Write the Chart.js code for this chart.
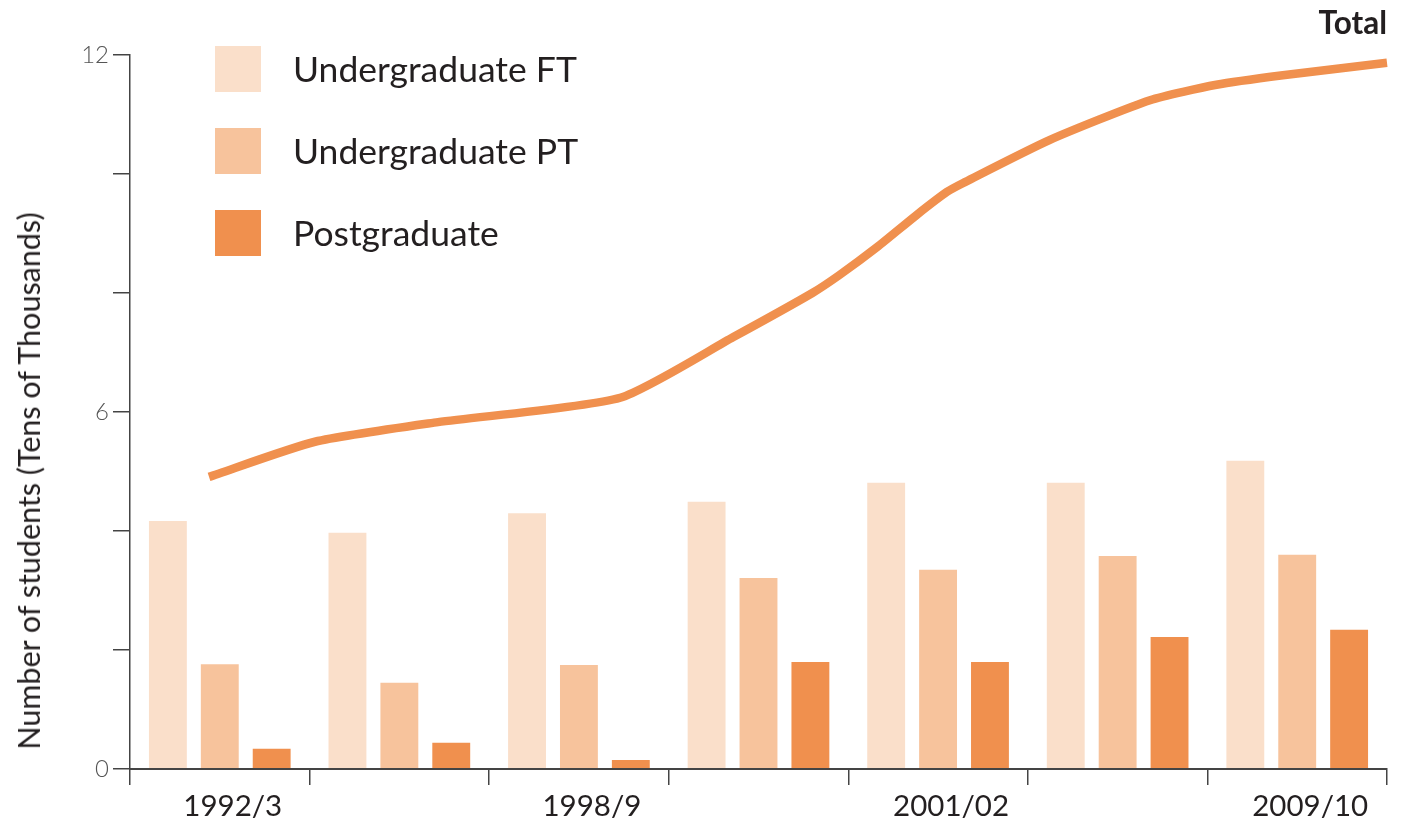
<!DOCTYPE html>
<html>
<head>
<meta charset="utf-8">
<script src="https://cdn.jsdelivr.net/npm/chart.js@4.4.0/dist/chart.umd.min.js"></script>
<style>
  html, body { margin: 0; padding: 0; background: #fff; }
  #wrap { position: relative; width: 1407px; height: 829px; font-family: Lato, "Noto Sans", sans-serif; color: #231f20; }
  canvas { position: absolute; left: 0; top: 0; }
  #legend { position: absolute; left: 215px; top: 46px; }
  .item { display: flex; align-items: center; height: 46px; margin-bottom: 36px; }
  .swatch { width: 46px; height: 46px; margin-right: 32px; }
  .item span { font-size: 35.5px; line-height: 46px; }
  #total { position: absolute; right: 20px; top: 3px; font-size: 31.5px; font-weight: bold; }
  #ytitle { position: absolute; left: 28px; top: 481px; font-size: 30.5px; white-space: nowrap;
            transform: translate(-50%, -50%) rotate(-90deg); }
</style>
</head>
<body>
<div id="wrap">
  <canvas id="bars" width="1407" height="829"></canvas>
  <canvas id="total-line" width="1407" height="829"></canvas>
  <div id="legend"></div>
  <div id="total">Total</div>
  <div id="ytitle">Number of students (Tens of Thousands)</div>
</div>
<script>
// dados
const categories = ["1992/3", "", "1998/9", "", "2001/02", "", "2009/10"];
const ugFullTime = [4.17, 3.97, 4.30, 4.49, 4.81, 4.81, 5.18];
const ugPartTime = [1.76, 1.45, 1.75, 3.21, 3.35, 3.58, 3.60];
const postgrad = [0.34, 0.44, 0.15, 1.80, 1.80, 2.22, 2.34];
// total line: position along the axis in group widths (0..7)
const totalPos = [0.44, 1.03, 1.715, 2.73, 3.36, 3.80, 3.95, 4.16, 4.38, 4.55, 4.64, 5.12, 5.68, 6.05, 6.42, 7.0];
const totalVals = [4.91, 5.50, 5.83, 6.24, 7.26, 8.00, 8.30, 8.77, 9.31, 9.70, 9.85, 10.57, 11.24, 11.50, 11.66, 11.87];
const yLabelled = [0, 6, 12];

const ORANGE = "#F0904E";
const AXIS = "#444444";
const PAD = { top: 55, right: 20, left: 0, bottom: 0 };

const CHART = document.querySelector("#bars");
const CHART2 = document.querySelector("#total-line");

let barras = new Chart(CHART, {
  type: "bar",
  data: {
    labels: categories,
    datasets: [
      { label: "Undergraduate FT", data: ugFullTime, backgroundColor: "#FADFCA" },
      { label: "Undergraduate PT", data: ugPartTime, backgroundColor: "#F7C39C" },
      { label: "Postgraduate", data: postgrad, backgroundColor: ORANGE },
    ],
  },
  options: {
    responsive: false,
    animation: false,
    categoryPercentage: 0.867,
    barPercentage: 0.73,
    layout: { padding: PAD },
    plugins: { legend: { display: false }, tooltip: { enabled: false } },
    scales: {
      x: {
        offset: true,
        afterFit: (s) => { s.height = 60; },
        grid: { drawOnChartArea: false, offset: true, tickLength: 16, color: AXIS, lineWidth: 1.5 },
        border: { color: AXIS, width: 2, z: 1 },
        ticks: {
          autoSkip: false, maxRotation: 0, padding: 4, labelOffset: 13,
          color: "#231f20", font: { family: "Lato", size: 29.5 },
        },
      },
      y: {
        min: 0, max: 12,
        afterFit: (s) => { s.width = 130; },
        grid: { drawOnChartArea: false, tickLength: 17, color: AXIS, lineWidth: 1.5 },
        border: { color: AXIS, width: 1.5 },
        ticks: {
          stepSize: 2, padding: 4,
          color: "#555", font: { family: "Lato", size: 24, weight: "300" },
          callback: (v) => (yLabelled.includes(v) ? v : ""),
        },
      },
    },
  },
});

// linha do total num canvas por cima, mesma area de grafico
let linha = new Chart(CHART2, {
  type: "line",
  data: {
    datasets: [
      {
        label: "Total",
        data: totalPos.map((p, i) => ({ x: p, y: totalVals[i] })),
        borderColor: ORANGE,
        borderWidth: 8.5,
        pointRadius: 0,
        tension: 0.2,
        clip: false,
      },
    ],
  },
  options: {
    responsive: false,
    animation: false,
    layout: { padding: { top: 55, right: 20, left: 130, bottom: 60 } },
    plugins: { legend: { display: false }, tooltip: { enabled: false } },
    scales: {
      x: { type: "linear", min: 0, max: 7, display: false },
      y: { min: 0, max: 12, display: false },
    },
  },
});

// legenda em html
const legend = document.querySelector("#legend");
barras.data.datasets.forEach((ds) => {
  const item = document.createElement("div");
  item.className = "item";
  item.innerHTML = '<div class="swatch" style="background:' + ds.backgroundColor + '"></div><span>' + ds.label + "</span>";
  legend.appendChild(item);
});
</script>
</body>
</html>
